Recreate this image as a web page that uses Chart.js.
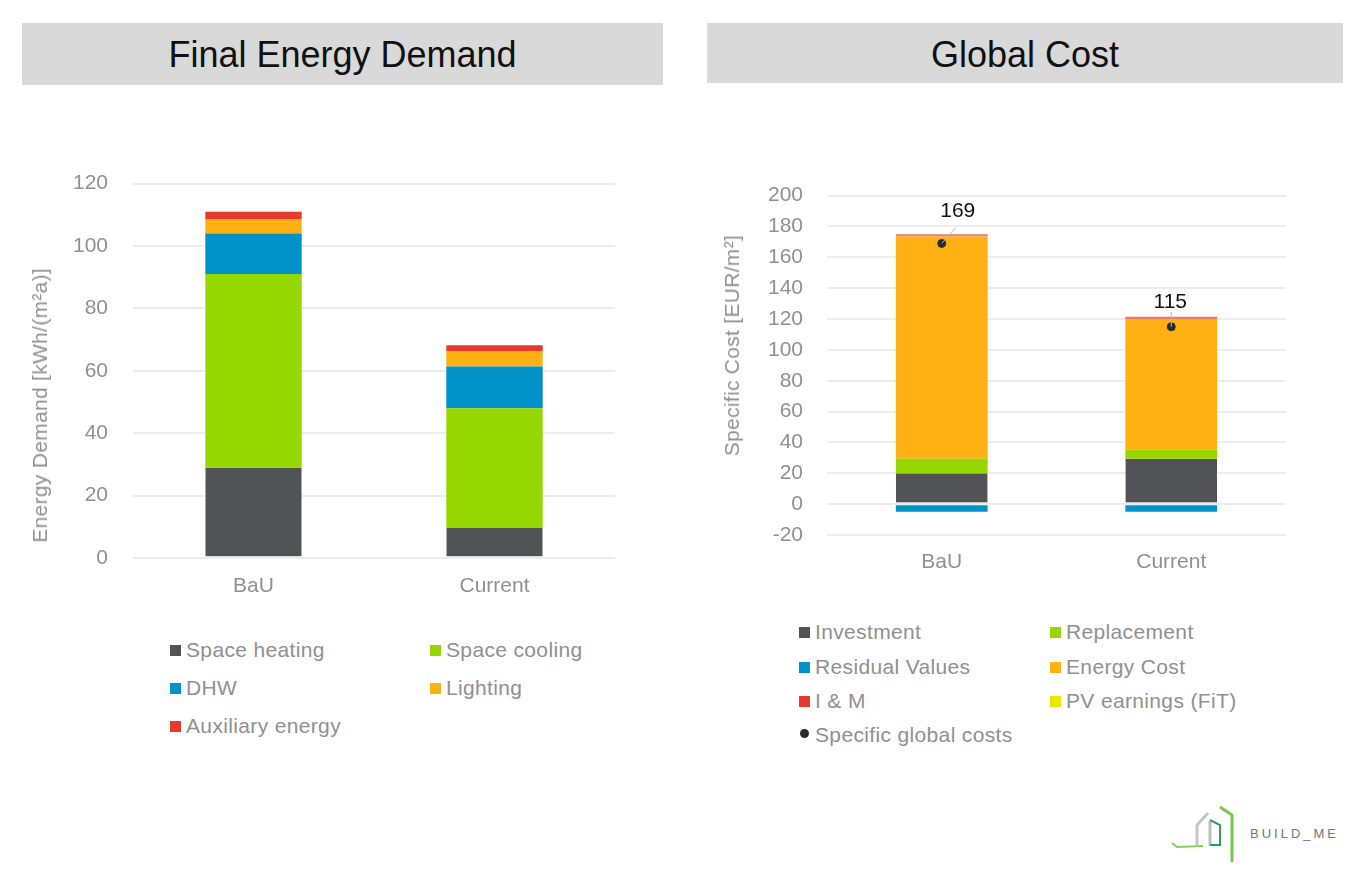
<!DOCTYPE html>
<html>
<head>
<meta charset="utf-8">
<title>Final Energy Demand and Global Cost</title>
<script src="https://cdn.jsdelivr.net/npm/chart.js@4/dist/chart.umd.min.js"></script>
<style>
  html, body { margin: 0; background: #fff; }
  body { position: relative; width: 1360px; height: 876px; overflow: hidden; font-family: "Liberation Sans", Arial, sans-serif; }
  .banner { position: absolute; background: #d9d9d9; color: #111; font-size: 36px; text-align: center; }
  #bannerEnergy { left: 22px; top: 23px; width: 641px; height: 62px; line-height: 64px; }
  #bannerCost { left: 707px; top: 23px; width: 636px; height: 60px; line-height: 64px; }
  .chartBox { position: absolute; }
  #energyBox { left: 20px; top: 146px; width: 640px; height: 474px; }
  #costBox { left: 700px; top: 159px; width: 640px; height: 441px; }
  .axisTitle { position: absolute; font-size: 21px; color: #909090; white-space: nowrap; line-height: 24px; letter-spacing: 0.3px; writing-mode: vertical-rl; transform: rotate(180deg); }
  #energyAxisTitle { left: 28px; top: 268px; }
  #costAxisTitle { left: 720px; top: 235px; }
  .legendItem { position: absolute; font-size: 21px; color: #909090; white-space: nowrap; line-height: 24px; letter-spacing: 0.35px; }
  .legendItem i { position: absolute; left: -16px; top: 7px; width: 11px; height: 11px; }
  .legendItem i.dot { width: 9px; height: 9px; left: -15px; top: 6px; border-radius: 50%; }
  #logo { position: absolute; left: 1165px; top: 800px; filter: blur(0.5px); }
  #logoText { position: absolute; left: 1250px; top: 826px; font-size: 13px; letter-spacing: 3px; color: #777; }
</style>
</head>
<body>
<div class="banner" id="bannerEnergy">Final Energy Demand</div>
<div class="banner" id="bannerCost">Global Cost</div>
<div class="chartBox" id="energyBox"><canvas id="energyChart"></canvas></div>
<div class="chartBox" id="costBox"><canvas id="costChart"></canvas></div>
<div class="axisTitle" id="energyAxisTitle">Energy Demand [kWh/(m²a)]</div>
<div class="axisTitle" id="costAxisTitle">Specific Cost [EUR/m²]</div>
<div id="legends"></div>
<svg id="logo" width="75" height="66" viewBox="0 0 75 66" fill="none">
  <path d="M7 43 L12 47 L38 46" stroke="#8ccb5a" stroke-width="2"/>
  <path d="M32 46 V25 L43 13" stroke="#c4c4c4" stroke-width="3"/>
  <path d="M45 46 V21" stroke="#bdbdbd" stroke-width="3"/>
  <path d="M45 20 L55 25 V45 H45" stroke="#2f9e62" stroke-width="2"/>
  <path d="M55 7 L67 15 V62" stroke="#7cc653" stroke-width="3"/>
</svg>
<div id="logoText">BUILD_ME</div>
<script>
const categories = ["BaU", "Current"];

const energyLabels = ["Space heating", "Space cooling", "DHW", "Lighting", "Auxiliary energy"];
const energyColors = ["#525356", "#97d700", "#0093c9", "#ffb013", "#e83a2c"];
const spaceHeating = [29, 9.6];
const spaceCooling = [62, 38.4];
const dhw = [13, 13.4];
const lighting = [4.5, 4.8];
const auxiliaryEnergy = [2.5, 2];

const costLabels = ["Investment", "Replacement", "Residual Values", "Energy Cost", "I & M", "PV earnings (FiT)"];
const costColors = ["#525356", "#97d700", "#0093c9", "#ffb013", "#e83a2c", "#e8e800"];
const investment = [20, 29.5];
const replacement = [9.5, 6];
const residualValues = [-5, -5];
const energyCost = [144, 84.5];
const iAndM = [1.5, 1.5];
const pvEarnings = [0, 0];
const globalCosts = [169, 115];

const energyTicks = [0, 20, 40, 60, 80, 100, 120];
const costTicks = [-20, 0, 20, 40, 60, 80, 100, 120, 140, 160, 180, 200];

const textGrey = "#909090";
const gridGrey = "#ededed";

function stacked(labels, colors, series) {
  const sets = labels.map((label, i) => ({
    type: "bar",
    label: label,
    data: series[i],
    backgroundColor: colors[i],
    borderWidth: 0,
    barPercentage: 0.8,
    categoryPercentage: 0.5,
    stack: "a",
    order: 2,
  }));
  // pale line along the zero axis under the first series
  sets[0].borderColor = "#dedede";
  sets[0].borderWidth = { bottom: 1 };
  sets[0].borderSkipped = false;
  return sets;
}

function axisOptions(ticks, min, max, tickPad, xPad, yWidth, xHeight) {
  return {
    x: {
      stacked: true,
      grid: { display: false },
      border: { display: false },
      ticks: { color: textGrey, font: { size: 21 }, padding: xPad },
      afterFit: (s) => { s.height = xHeight; },
    },
    y: {
      stacked: true,
      min: min,
      max: max,
      afterBuildTicks: (s) => { s.ticks = ticks.map((v) => ({ value: v })); },
      grid: { color: gridGrey, lineWidth: 2, drawTicks: false },
      border: { display: false },
      ticks: { color: textGrey, font: { size: 21 }, padding: tickPad },
      afterFit: (s) => { s.width = yWidth; },
    },
  };
}

// number labels with the small leader line above each global cost point
const labelShift = [[16, -32], [-1, -25]];
const leaderEnd = [[14, -16], [0, -15]];
const leaderLabels = {
  id: "leaderLabels",
  afterDatasetsDraw(chart) {
    const meta = chart.getDatasetMeta(chart.data.datasets.length - 1);
    const c = chart.ctx;
    c.save();
    meta.data.forEach((pt, i) => {
      c.strokeStyle = "#b5b5b5";
      c.lineWidth = 1;
      c.beginPath();
      c.moveTo(pt.x, pt.y);
      c.lineTo(pt.x + leaderEnd[i][0], pt.y + leaderEnd[i][1]);
      c.stroke();
      c.fillStyle = "#111";
      c.font = '21px "Liberation Sans"';
      c.textAlign = "center";
      c.textBaseline = "middle";
      c.fillText(String(globalCosts[i]), pt.x + labelShift[i][0], pt.y + labelShift[i][1]);
    });
    c.restore();
  },
};

new Chart(document.getElementById("energyChart"), {
  type: "bar",
  data: {
    labels: categories,
    datasets: stacked(energyLabels, energyColors, [spaceHeating, spaceCooling, dhw, lighting, auxiliaryEnergy]),
  },
  options: {
    responsive: true,
    maintainAspectRatio: false,
    animation: false,
    layout: { padding: { top: 14, right: 45, left: 0, bottom: 0 } },
    plugins: { legend: { display: false }, tooltip: { enabled: false } },
    scales: axisOptions(energyTicks, 0, 120, 25, 8, 113, 62),
  },
});

const costDatasets = stacked(costLabels, costColors, [investment, replacement, residualValues, energyCost, iAndM, pvEarnings]);
costDatasets[4].backgroundColor = "#ee7a66"; // the thin strip reads paler than its legend swatch
costDatasets.push({
  type: "line",
  label: "Specific global costs",
  data: globalCosts,
  showLine: false,
  pointRadius: 4,
  pointBackgroundColor: "#2b2b2b",
  pointBorderColor: "#2b2b2b",
  order: 1,
});

new Chart(document.getElementById("costChart"), {
  type: "bar",
  data: { labels: categories, datasets: costDatasets },
  options: {
    responsive: true,
    maintainAspectRatio: false,
    animation: false,
    layout: { padding: { top: 20, right: 54, left: 0, bottom: 0 } },
    plugins: { legend: { display: false }, tooltip: { enabled: false } },
    scales: axisOptions(costTicks, -20, 200, 24, 7, 127, 65),
  },
  plugins: [leaderLabels],
});

// legends laid out in two columns, from the same names and colours as the bars
function addLegend(labels, colors, left, left2, top, rowGap) {
  const host = document.getElementById("legends");
  labels.forEach((label, i) => {
    const el = document.createElement("div");
    el.className = "legendItem";
    el.style.left = (i % 2 ? left2 : left) + "px";
    el.style.top = (top + Math.floor(i / 2) * rowGap) + "px";
    el.innerHTML = `<i style="background:${colors[i]}"></i>`;
    el.appendChild(document.createTextNode(label));
    host.appendChild(el);
  });
}
addLegend(energyLabels, energyColors, 186, 446, 638, 38);
addLegend(costLabels, costColors, 815, 1066, 620, 34.5);

const dotItem = document.createElement("div");
dotItem.className = "legendItem";
dotItem.style.left = "815px";
dotItem.style.top = "723px";
dotItem.innerHTML = '<i class="dot" style="background:#2b2b2b"></i>Specific global costs';
document.getElementById("legends").appendChild(dotItem);
</script>
</body>
</html>
